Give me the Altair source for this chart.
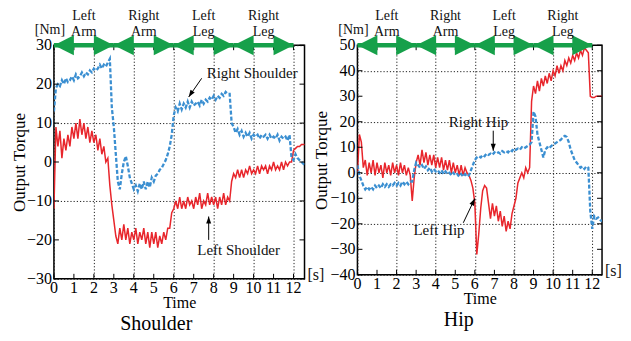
import altair as alt
import pandas as pd

FONT = "Liberation Serif"
RED = "#e8262c"
BLUE = "#3b8fd1"
GREEN = "#16a04a"

# sample times [s]
time_shoulder = [round(0.1 * i, 1) for i in range(127)]
time_hip = [round(0.1 * i, 1) for i in range(126)]

left_shoulder = [
    -12, 9, 4, 8, 1, 6, 3, 7, 4, 9,
    6, 10, 6, 11, 7, 10, 6, 9, 5, 8,
    5, 7, 3, 6, 2, 4, 0, 1, -6, -11,
    -15, -19, -21, -17, -20, -16, -20, -17, -21, -18,
    -20, -17, -21, -18, -20, -17, -21, -18, -22, -18,
    -21, -18, -22, -19, -21, -18, -20, -17, -17, -13,
    -12, -10, -12, -9, -12, -10, -12, -9, -11, -10,
    -12, -9, -11, -8, -12, -10, -11, -8, -11, -9,
    -11, -9, -12, -9, -11, -8, -11, -9, -10, -5,
    -3, -4, -2, -4, -2, -4, -2, -3, -1, -3,
    -2, -3, -1, -3, -1, -2, -1, -3, -1, -2,
    0, -2, -1, -2, 0, -2, 0, -1, 0, 0,
    3, 3.5, 4, 4, 4.5, 4.5, 4.5,
]
right_shoulder = [
    13, 19, 20, 19.5, 21, 20, 21.5, 20.5, 21, 22,
    21, 22.5, 21.5, 22, 23, 22, 23, 22.5, 23.5, 23,
    24, 23.5, 24, 25, 24, 25, 24.5, 25.5, 26.5, 14,
    9, 2, -5, -7, -3, 0, 1.5, -1, -4, -5.5,
    -7, -6, -7.5, -5.5, -7, -5, -7, -5, -6.5, -4,
    -5, -3.5, -3, -2, -1.5, -0.5, 0.5, 2, 4, 7,
    12, 14, 13, 15, 13.5, 15, 14, 15.5, 14, 15.5,
    14.5, 15, 15.5, 14.5, 16, 15, 16, 15.5, 16.5, 16,
    17, 16, 17, 16.5, 17.5, 17, 18, 17.5, 17.5, 10,
    9, 7.5, 8.5, 7, 8, 6.5, 7.5, 6.5, 7.5, 6,
    7, 6.5, 7, 6, 7, 6.5, 7, 6, 7, 6,
    6.5, 6, 7, 5.5, 6.5, 6, 6.5, 5.5, 7, 1,
    0.5, 2, 1, 0.5, 0, -0.5, -1,
]
left_hip = [
    0, 15, 12, 2, 5, -1, 4, 0, 5, -1,
    4, 0, 3, -2, 4, 0, 3, -1, 4, 0,
    3, -1, 4, 0, 3, -1, 2, -1, -11, -2,
    4, 7, 3, 9, 4, 8, 3, 7, 3, 7,
    2, 6, 2, 6, 1, 5, 1, 5, 0, 4,
    0, 3, -1, 3, -1, 2, 0, -1, -3, -6,
    -12, -32, -24, -14, -7, -5, -6, -12, -18, -12,
    -17, -13, -19, -15, -21, -17, -23, -19, -22, -16,
    -13, -10, -4, -2, 0, -2, 2, 0, 2, 28,
    34, 31, 36, 32, 37, 34, 38, 35, 39, 36,
    40, 38, 42, 39, 42, 40, 44, 42, 45, 43,
    46, 44, 47, 45, 48, 46, 49, 48, 47, 30,
    29.5, 29.5, 30, 30, 30, 30,
]
right_hip = [
    3, -1, -3, -5, -6.5, -5.5, -6.5, -5.5, -6.5, -5,
    -6, -5, -6, -4.5, -5.5, -4.5, -5.5, -4.5, -5, -4,
    -5, -4, -5, -3.5, -4.5, -3.5, -4.5, -3.5, -3.5, 1,
    4, 3, 2, 3, 1.5, 2.5, 1, 2, 0.5, 1.5,
    0.5, 1, 0, 1, -0.5, 0.5, -0.5, 0, -1, 0,
    -1, -0.5, -1.5, -0.5, -1.5, -0.5, -1.5, -1, 1, 3,
    5, 6, 6.5, 6, 7, 6.5, 7.5, 7, 7.5, 7,
    8, 7.5, 8, 7.5, 8.5, 8, 8.5, 8, 9, 8.5,
    9.5, 9, 9.5, 9, 10, 9.5, 10, 10.5, 11, 12,
    24, 22, 15, 12, 9, 6, 9, 10, 9.5, 10.5,
    11, 11.5, 12, 12.5, 13, 14, 14.5, 14, 12, 9,
    7, 5, 4, 3, 2, 2.5, 1.5, 2.5, 2, -15,
    -22, -17, -18, -17.5, -18.5, -19,
]

x_ticks = list(range(13))
shoulder_y_ticks = [-30, -20, -10, 0, 10, 20, 30]
hip_y_ticks = [-40, -30, -20, -10, 0, 10, 20, 30, 40, 50]

phase_start = [0, 3, 6, 9]
phase_end = [3, 6, 9, 12]
phase_mid = [1.5, 4.5, 7.5, 10.5]
phase_side = ["Left", "Right", "Left", "Right"]
phase_limb = ["Arm", "Arm", "Leg", "Leg"]

shoulder_note_text = ["Right Shoulder", "Left Shoulder"]
shoulder_note_t = [9.93, 9.25]
shoulder_note_v = [22.8, -22.6]
shoulder_arrow = {"t1": [7.4, 7.75], "v1": [21.5, -20.0],
                  "t2": [6.75, 7.75], "v2": [16.7, -14.0], "ang": [214, 0]}

hip_note_text = ["Right Hip", "Left Hip"]
hip_note_t = [6.19, 4.17]
hip_note_v = [20.0, -22.3]
hip_arrow = {"t1": [6.94, 5.41], "v1": [16.5, -19.6],
             "t2": [6.94, 6.0], "v2": [8.6, -10.1], "ang": [180, 26]}

AXIS_STYLE = dict(grid=True, ticks=False, tickSize=0, domain=False,
                  labels=False, titleFont=FONT, titleFontWeight="normal",
                  titleColor="black", gridColor="#222", gridDash=[1.2, 2],
                  gridOpacity=1, gridWidth=1)


def panel(times, lvals, rvals, xmax, ymin, ymax, yticks, width, height,
          title, title_dx, ytitle_pad, note_text, note_t, note_v, arrows):
    xs = alt.Scale(domain=[0, xmax], nice=False, zero=False)
    ys = alt.Scale(domain=[ymin, ymax], nice=False, zero=False)
    xaxis = alt.Axis(values=x_ticks, title="Time", titleFontSize=16,
                     titlePadding=16, **AXIS_STYLE)
    yaxis = alt.Axis(values=yticks, title="Output Torque", titleFontSize=17,
                     titlePadding=ytitle_pad, **AXIS_STYLE)

    def X(f):
        return alt.X(f, type="quantitative", scale=xs, axis=xaxis)

    def Y(f):
        return alt.Y(f, type="quantitative", scale=ys, axis=yaxis)

    df = pd.DataFrame({"t": times, "left": lvals, "right": rvals})
    red = alt.Chart(df).mark_line(color=RED, strokeWidth=1.5, clip=True).encode(
        x=X("t"), y=Y("left"))
    blue = alt.Chart(df).mark_line(color=BLUE, strokeWidth=2.3,
                                   strokeDash=[4, 2], clip=True).encode(
        x=X("t"), y=Y("right"))

    xt = pd.DataFrame({"v": x_ticks})
    yt = pd.DataFrame({"v": yticks})
    tick_style = dict(size=100, filled=False, stroke="black", strokeWidth=1,
                      opacity=1)
    bt = alt.Chart(xt).mark_point(shape="M 0 0 L 0 -1", **tick_style).encode(
        x=X("v"), y=alt.datum(ymin))
    tt = alt.Chart(xt).mark_point(shape="M 0 0 L 0 1", **tick_style).encode(
        x=X("v"), y=alt.datum(ymax))
    lt = alt.Chart(yt).mark_point(shape="M 0 0 L 1 0", **tick_style).encode(
        x=alt.datum(0), y=Y("v"))
    rt = alt.Chart(yt).mark_point(shape="M 0 0 L -1 0", **tick_style).encode(
        x=alt.datum(xmax), y=Y("v"))

    # tick labels
    xlab = alt.Chart(xt).mark_text(font=FONT, fontSize=16, color="black",
                                   baseline="top", align="center",
                                   dy=1).encode(
        x=X("v"), y=alt.datum(ymin), text=alt.Text("v:Q", format="d"))
    ylab = alt.Chart(yt).mark_text(font=FONT, fontSize=16, color="black",
                                   baseline="middle", align="right",
                                   dx=-2).encode(
        x=alt.datum(0), y=Y("v"), text=alt.Text("v:Q", format="d"))

    notes = pd.DataFrame({"t": note_t, "v": note_v, "txt": note_text})
    note_layer = alt.Chart(notes).mark_text(font=FONT, fontSize=15,
                                            color="#111", align="center",
                                            baseline="middle").encode(
        x=X("t"), y=Y("v"), text="txt:N")
    adf = pd.DataFrame(arrows)
    arrow_line = alt.Chart(adf).mark_rule(color="black", strokeWidth=1).encode(
        x=X("t1"), y=Y("v1"), x2="t2", y2="v2")
    arrow_head = alt.Chart(adf).mark_point(
        shape="M 0 0 L 0.36 1 L -0.36 1 Z", size=196, filled=True,
        color="black", opacity=1).encode(
        x=X("t2"), y=Y("v2"), angle=alt.Angle("ang:Q", scale=None))

    ph = pd.DataFrame({"s": phase_start, "e": phase_end, "m": phase_mid,
                       "side": phase_side, "limb": phase_limb})
    shaft = alt.Chart(ph).mark_rule(color=GREEN, strokeWidth=4.5).encode(
        x=X("s"), x2="e", y=alt.datum(ymax))
    head_l = alt.Chart(ph).mark_point(
        shape="M -1 0 L 1 -1 L 1 1 Z", size=400, filled=True, color=GREEN,
        opacity=1, xOffset=10).encode(x=X("s"), y=alt.datum(ymax))
    head_r = alt.Chart(ph).mark_point(
        shape="M 1 0 L -1 -1 L -1 1 Z", size=400, filled=True, color=GREEN,
        opacity=1, xOffset=-10).encode(x=X("e"), y=alt.datum(ymax))
    lab_style = dict(font=FONT, fontSize=14, color="#111",
                     baseline="alphabetic", align="center")
    lab_bottom = alt.Chart(ph).mark_text(dy=-9, **lab_style).encode(
        x=X("m"), y=alt.datum(ymax), text="limb:N")
    lab_top = alt.Chart(ph).mark_text(dy=-25, **lab_style).encode(
        x=X("m"), y=alt.datum(ymax), text="side:N")

    unit = pd.DataFrame({"u": ["[Nm]"], "s": ["[s]"]})
    nm = alt.Chart(unit).mark_text(font=FONT, fontSize=14, color="#111",
                                   baseline="alphabetic", align="center",
                                   dx=-4, dy=-11).encode(
        x=alt.datum(0), y=alt.datum(ymax), text="u:N")
    sec = alt.Chart(unit).mark_text(font=FONT, fontSize=16, color="#111",
                                    baseline="alphabetic", align="left",
                                    dx=3, dy=1).encode(
        x=alt.datum(xmax), y=alt.datum(ymin), text="s:N")

    return alt.layer(red, blue, bt, tt, lt, rt, xlab, ylab, arrow_line,
                     arrow_head, note_layer, shaft, head_l, head_r,
                     lab_bottom, lab_top, nm, sec).properties(
        width=width, height=height,
        title=alt.TitleParams(title, orient="bottom", font=FONT, fontSize=20,
                              fontWeight="normal", color="black",
                              dx=title_dx, offset=3))


left = panel(time_shoulder, left_shoulder, right_shoulder, 12.55, -30, 30,
             shoulder_y_ticks, 251, 234, "Shoulder", -23, 25,
             shoulder_note_text, shoulder_note_t, shoulder_note_v,
             shoulder_arrow)
right = panel(time_hip, left_hip, right_hip, 12.5, -40, 50, hip_y_ticks,
              245, 230, "Hip", -21, 27, hip_note_text, hip_note_t,
              hip_note_v, hip_arrow)

chart = alt.hconcat(left, right, spacing=53, bounds="flush").properties(
    padding={"left": 2, "top": 0, "right": 0, "bottom": 0},
    background="white",
).configure_view(
    stroke="black", strokeWidth=1.5
)

chart.save("out.html", embed_options={"renderer": "svg", "actions": False})
